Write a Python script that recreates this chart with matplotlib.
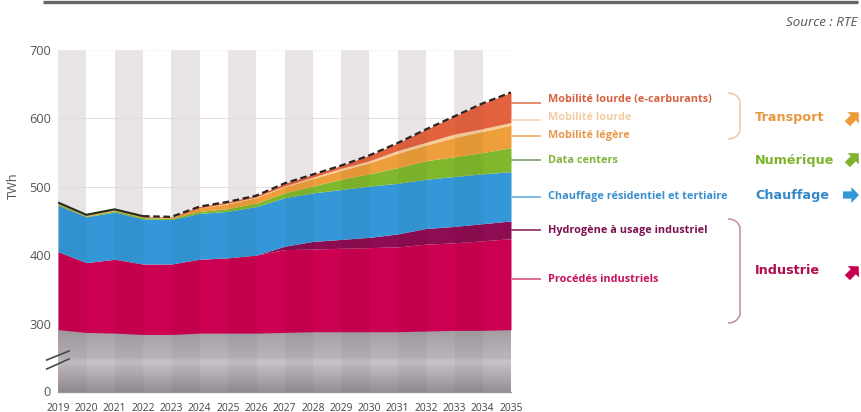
import numpy as np
import matplotlib
matplotlib.use("Agg")
import matplotlib.pyplot as plt
from matplotlib.colors import LinearSegmentedColormap
from matplotlib.patches import Polygon, PathPatch
from matplotlib.path import Path

# Electricity demand by use, TWh
years = list(range(2019, 2036))
socle = [291, 287, 286, 284, 284, 286, 286, 286, 287, 288, 288, 288, 288, 289, 290, 290, 291]
procedes = [114, 102, 108, 103, 103, 108, 110, 114, 121, 121, 122, 123, 124, 127, 128, 131, 133]
hydrogene = [0, 0, 0, 0, 0, 0, 0, 0, 5, 11, 13, 15, 19, 23, 24, 25, 26]
chauffage = [68, 67, 69, 66, 65, 67, 68, 71, 71, 71, 73, 75, 74, 72, 73, 73, 72]
data_centers = [2, 1, 2, 2, 2, 3, 4, 5, 7, 10, 15, 18, 23, 27, 29, 31, 35]
mobilite_legere = [1, 1, 1, 1, 1, 5, 7, 8, 9, 11, 13, 16, 21, 23, 28, 31, 33]
mobilite_lourde = [0, 0, 0, 0, 0, 0, 1, 1, 1, 2, 3, 3, 4, 4, 5, 4, 4]
e_carburants = [1, 1, 1, 1, 1, 2, 2, 2, 4, 4, 4, 8, 11, 19, 26, 37, 44]

y_ticks = [0, 300, 400, 500, 600, 700]

stack_values = [procedes, hydrogene, chauffage, data_centers, mobilite_legere, mobilite_lourde, e_carburants]
stack_colors = ["#cc0050", "#8e0c52", "#3498d8", "#7fb82c", "#ee9e3a", "#f9cd98", "#e4633f"]

labels = ["Mobilité lourde (e-carburants)", "Mobilité lourde", "Mobilité légère", "Data centers",
          "Chauffage résidentiel et tertiaire", "Hydrogène à usage industriel", "Procédés industriels"]
label_colors = ["#d8603f", "#f3cda6", "#e8984a", "#7fb53a", "#3a8fcf", "#7d1050", "#c8105a"]
leader_colors = ["#e98a6e", "#f8dcbc", "#f2b47c", "#93a98a", "#7fbbe3", "#9a4a78", "#dd6f96"]
label_y = [99, 117.5, 135.5, 160, 196, 230, 280]
leader_y = [102.7, 120, 135.7, 159.5, 196.7, 230, 279]

groups = ["Transport", "Numérique", "Chauffage", "Industrie"]
group_colors = ["#e8983e", "#7fb32e", "#3488c8", "#b00c50"]
group_y = [117, 160, 195, 271]

W, H = 861, 412
fig = plt.figure(figsize=(W / 100, H / 100), dpi=100)
plt.rcParams["font.family"] = ["Open Sans", "DejaVu Sans"]

# Broken value axis: the 0-250 span is compressed
knots_v = [0, 250, 700]
knots_p = [0, 33.8, 341.5]
ax = fig.add_axes([58 / W, 1 - 391.5 / H, 453 / W, 341.5 / H])
ax.set_yscale("function", functions=(lambda v: np.interp(v, knots_v, knots_p),
                                     lambda p: np.interp(p, knots_p, knots_v)))
ax.set_xlim(2019, 2035)
ax.set_ylim(0, 700)

# Alternating year bands behind the areas
x = np.array(years)
for yr in years[::2][:-1]:
    ax.axvspan(yr, yr + 1, color="#e9e5e7", lw=0, zorder=0)
for v in (600, 500):
    ax.axhline(v, color="#e2dee0", lw=0.8, zorder=1)
ax.axhline(700, color="#eeeaec", lw=0.8, ls=(0, (1, 2)), zorder=1)

# Base layer with a vertical grey gradient, lightest just under the axis break
base = np.array(socle, dtype=float)
cmap = LinearSegmentedColormap.from_list("socle", [(0, "#958e94"), (0.75, "#cac2ca"), (1, "#a09aa0")])
yy = np.linspace(0, 300, 90)
mesh = ax.pcolormesh([2019, 2035], yy, (yy[:-1] / 295)[:, None], cmap=cmap, vmin=0, vmax=1,
                     shading="flat", zorder=2, rasterized=True)
clip_poly = Polygon(np.r_[[[2019, 0]], np.c_[x, base], [[2035, 0]]], closed=True,
                    transform=ax.transData, fc="none", ec="none")
ax.add_patch(clip_poly)
mesh.set_clip_path(clip_poly)

# Stacked uses above the base layer
bottom = base.copy()
for values, color in zip(stack_values, stack_colors):
    top = bottom + np.array(values, dtype=float)
    ax.fill_between(x, bottom, top, color=color, lw=0, zorder=3)
    bottom = top
total = bottom

# Darker year bands over the areas
for yr in years[::2][:-1]:
    mask = (x >= yr) & (x <= yr + 1)
    ax.fill_between(x[mask], 0, total[mask], color="#000000", alpha=0.04, lw=0, zorder=4)

# Demand outline: solid for history, dashed for the projection
hist = x <= 2022
ax.plot(x[hist], total[hist], color="#20301c", lw=1.5, zorder=5, solid_capstyle="butt")
ax.plot(x[~hist | (x == 2022)], total[~hist | (x == 2022)], color="#2a2320", lw=1.6,
        ls=(0, (3, 1.6)), zorder=5)

for s in ("top", "right", "left"):
    ax.spines[s].set_visible(False)
ax.spines["bottom"].set_color("#9a9a9a")
ax.spines["bottom"].set_linewidth(1)
ax.set_yticks(y_ticks)
ax.set_yticklabels([str(v) for v in y_ticks], color="#555555", fontsize=9.2)
ax.set_xticks(years)
ax.set_xticklabels([str(v) for v in years], color="#444444", fontsize=7.4)
ax.tick_params(axis="both", length=0)
ax.tick_params(axis="y", pad=5)
ax.tick_params(axis="x", pad=8)
ax.minorticks_off()
ax.set_ylabel("TWh", color="#555555", fontsize=9.2)
ax.yaxis.set_label_coords(-38 / 453, (391.5 - 186) / 341.5)

# Overlay in pixel coordinates for the annotations around the plot
ov = fig.add_axes([0, 0, 1, 1], facecolor="none")
ov.set_xlim(0, W)
ov.set_ylim(H, 0)
ov.axis("off")

ov.plot([43, 858], [2, 2], color="#666666", lw=2.4, solid_capstyle="butt")
ov.text(857, 22, "Source : RTE", ha="right", va="center", style="italic", color="#555555", fontsize=9.6)

# Axis break marks
ov.plot([46.7, 69], [360, 351], color="#4a4a4a", lw=1.2, zorder=7)
ov.plot([46.7, 69], [369, 359], color="#4a4a4a", lw=1.2, zorder=7)

# Leader lines and series labels
for ly, lc, ty, tc, txt in zip(leader_y, leader_colors, label_y, label_colors, labels):
    ov.plot([512, 540], [ly, ly], color=lc, lw=1.4)
    ov.text(548, ty, txt, color=tc, fontsize=7.8, fontweight="bold", va="center", ha="left")

# Group names
for gy, gc, g in zip(group_y, group_colors, groups):
    ov.text(755, gy, g, color=gc, fontsize=9.2, fontweight="bold", family="DejaVu Sans",
            va="center", ha="left")

# Right-hand braces
def brace(y0, y1, color):
    verts = [(728, y0), (737, y0), (740, y0 + 8), (740, y1 - 8), (737, y1), (728, y1)]
    codes = [Path.MOVETO, Path.CURVE3, Path.CURVE3, Path.LINETO, Path.CURVE3, Path.CURVE3]
    ov.add_patch(PathPatch(Path(verts, codes), fc="none", ec=color, lw=1.1))

brace(93, 139, "#f0c9a0")
brace(219, 323, "#c48aa2")

# Trend arrows at the right edge
def arrow(cx, cy, angle, color, size=8):
    pts = np.array([[-1, -0.45], [0.05, -0.45], [0.05, -1], [1, 0], [0.05, 1], [0.05, 0.45], [-1, 0.45]]) * size
    a = np.deg2rad(angle)
    rot = np.array([[np.cos(a), np.sin(a)], [-np.sin(a), np.cos(a)]])
    ov.fill(*(pts @ rot.T + [cx, cy]).T, color=color, lw=0, clip_on=True)

arrow(853, 118, 45, "#ee9a35")
arrow(853, 159, 45, "#7fb32e")
arrow(851, 195, 0, "#3498d8")
arrow(853, 272, 45, "#c4004f")

fig.savefig("out.png", dpi=100)
